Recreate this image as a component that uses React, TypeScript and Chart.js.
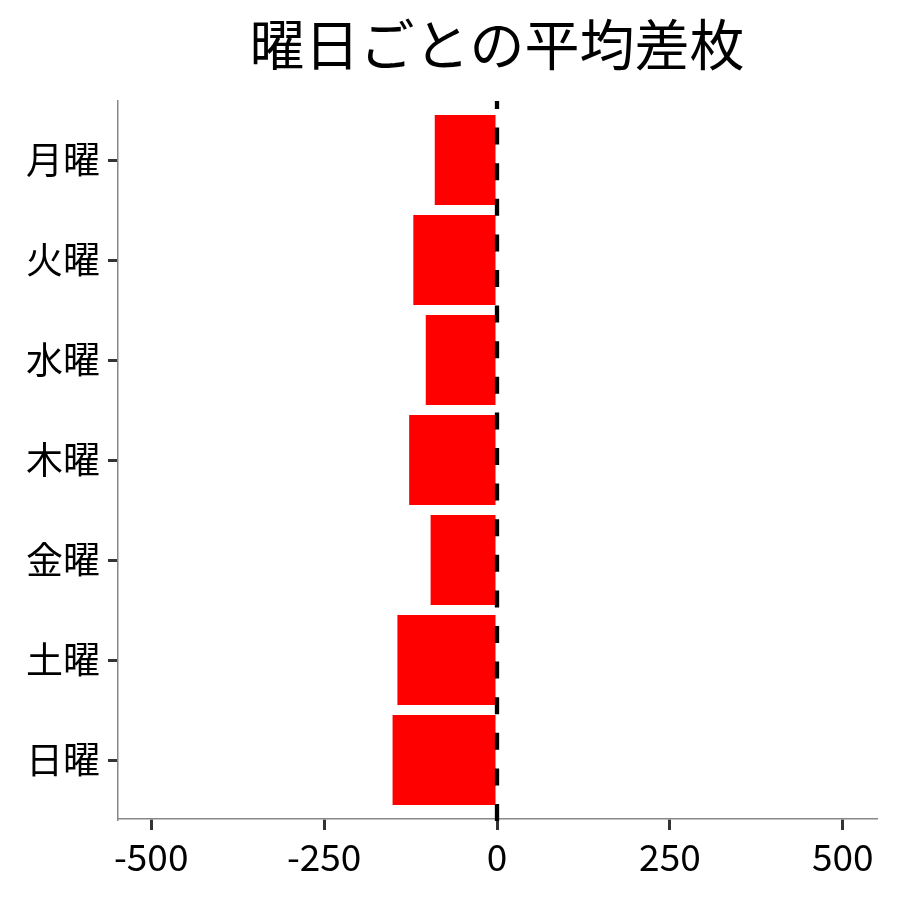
import React, { useEffect, useRef } from 'react';
import { Chart, registerables } from 'chart.js';

Chart.register(...registerables);

const days = ['月曜', '火曜', '水曜', '木曜', '金曜', '土曜', '日曜'];
const avgDiff = [-90, -121, -103, -127, -96, -144, -151];
const xTicks = [-500, -250, 0, 250, 500];

const FONT = '"Noto Sans CJK JP", "Noto Sans", sans-serif';
const TITLE = '曜日ごとの平均差枚';

// draws the zero reference line and the centred title
const overlayPlugin = {
  id: 'overlay',
  afterDatasetsDraw(chart: any) {
    const { ctx, chartArea, scales } = chart;
    const x = scales.x.getPixelForValue(0);
    ctx.save();
    ctx.strokeStyle = '#000';
    ctx.lineWidth = 4.3;
    ctx.setLineDash([17, 18.6]);
    ctx.beginPath();
    ctx.moveTo(x, chartArea.bottom + 2);
    ctx.lineTo(x, chartArea.top);
    ctx.stroke();
    ctx.restore();
  },
  afterDraw(chart: any) {
    const { ctx, chartArea } = chart;
    ctx.save();
    ctx.fillStyle = '#000';
    ctx.font = `55px ${FONT}`;
    ctx.textAlign = 'center';
    ctx.textBaseline = 'middle';
    ctx.fillText(TITLE, (chartArea.left + chartArea.right) / 2, 44);
    ctx.restore();
  },
};

const App: React.FC = () => {
  const canvasRef = useRef<HTMLCanvasElement | null>(null);
  const chartRef = useRef<Chart | null>(null);

  useEffect(() => {
    document.body.style.margin = '0';
    if (!canvasRef.current) return;
    if (chartRef.current) chartRef.current.destroy();

    chartRef.current = new Chart(canvasRef.current, {
      type: 'bar',
      data: {
        datasets: [
          {
            label: '平均差枚',
            data: avgDiff.map((v, i) => ({ x: v, y: i })),
            backgroundColor: '#ff0000',
            borderWidth: 0,
            categoryPercentage: 0.9,
            barPercentage: 1,
          },
        ],
      },
      options: {
        indexAxis: 'y',
        animation: false,
        responsive: false,
        maintainAspectRatio: false,
        layout: { padding: { top: 101, right: 24, left: 0, bottom: 0 } },
        plugins: {
          legend: { display: false },
          title: { display: false },
          tooltip: { enabled: false },
        },
        scales: {
          x: {
            type: 'linear',
            min: -548,
            max: 548,
            afterBuildTicks: (s: any) => {
              s.ticks = xTicks.map((v) => ({ value: v }));
            },
            afterFit: (s: any) => {
              s.height = 81;
            },
            ticks: {
              color: '#000',
              font: { family: FONT, size: 37 },
              padding: 5,
              maxRotation: 0,
              autoSkip: false,
              callback: (v: any) => String(v),
            },
            grid: {
              drawOnChartArea: false,
              drawTicks: true,
              tickLength: 11,
              color: '#333',
              lineWidth: 3,
            },
            border: { display: true, color: '#888', width: 1.5 },
          },
          y: {
            type: 'linear',
            reverse: true,
            offset: false,
            min: -0.59,
            max: 6.59,
            afterBuildTicks: (s: any) => {
              s.ticks = days.map((_, i) => ({ value: i }));
            },
            afterFit: (s: any) => {
              s.width = 118;
            },
            ticks: {
              color: '#000',
              font: { family: FONT, size: 37 },
              padding: 8,
              autoSkip: false,
              callback: (v: any) => days[v] ?? '',
            },
            grid: {
              offset: false,
              drawOnChartArea: false,
              drawTicks: true,
              tickLength: 10,
              color: '#333',
              lineWidth: 3,
            },
            border: { display: true, color: '#888', width: 1.5 },
          },
        },
      },
      plugins: [overlayPlugin],
    });

    return () => {
      if (chartRef.current) {
        chartRef.current.destroy();
        chartRef.current = null;
      }
    };
  }, []);

  return (
    <div style={{ width: 900, height: 900, background: '#fff' }}>
      <canvas ref={canvasRef} width={900} height={900} style={{ display: 'block' }} />
    </div>
  );
};

export default App;
